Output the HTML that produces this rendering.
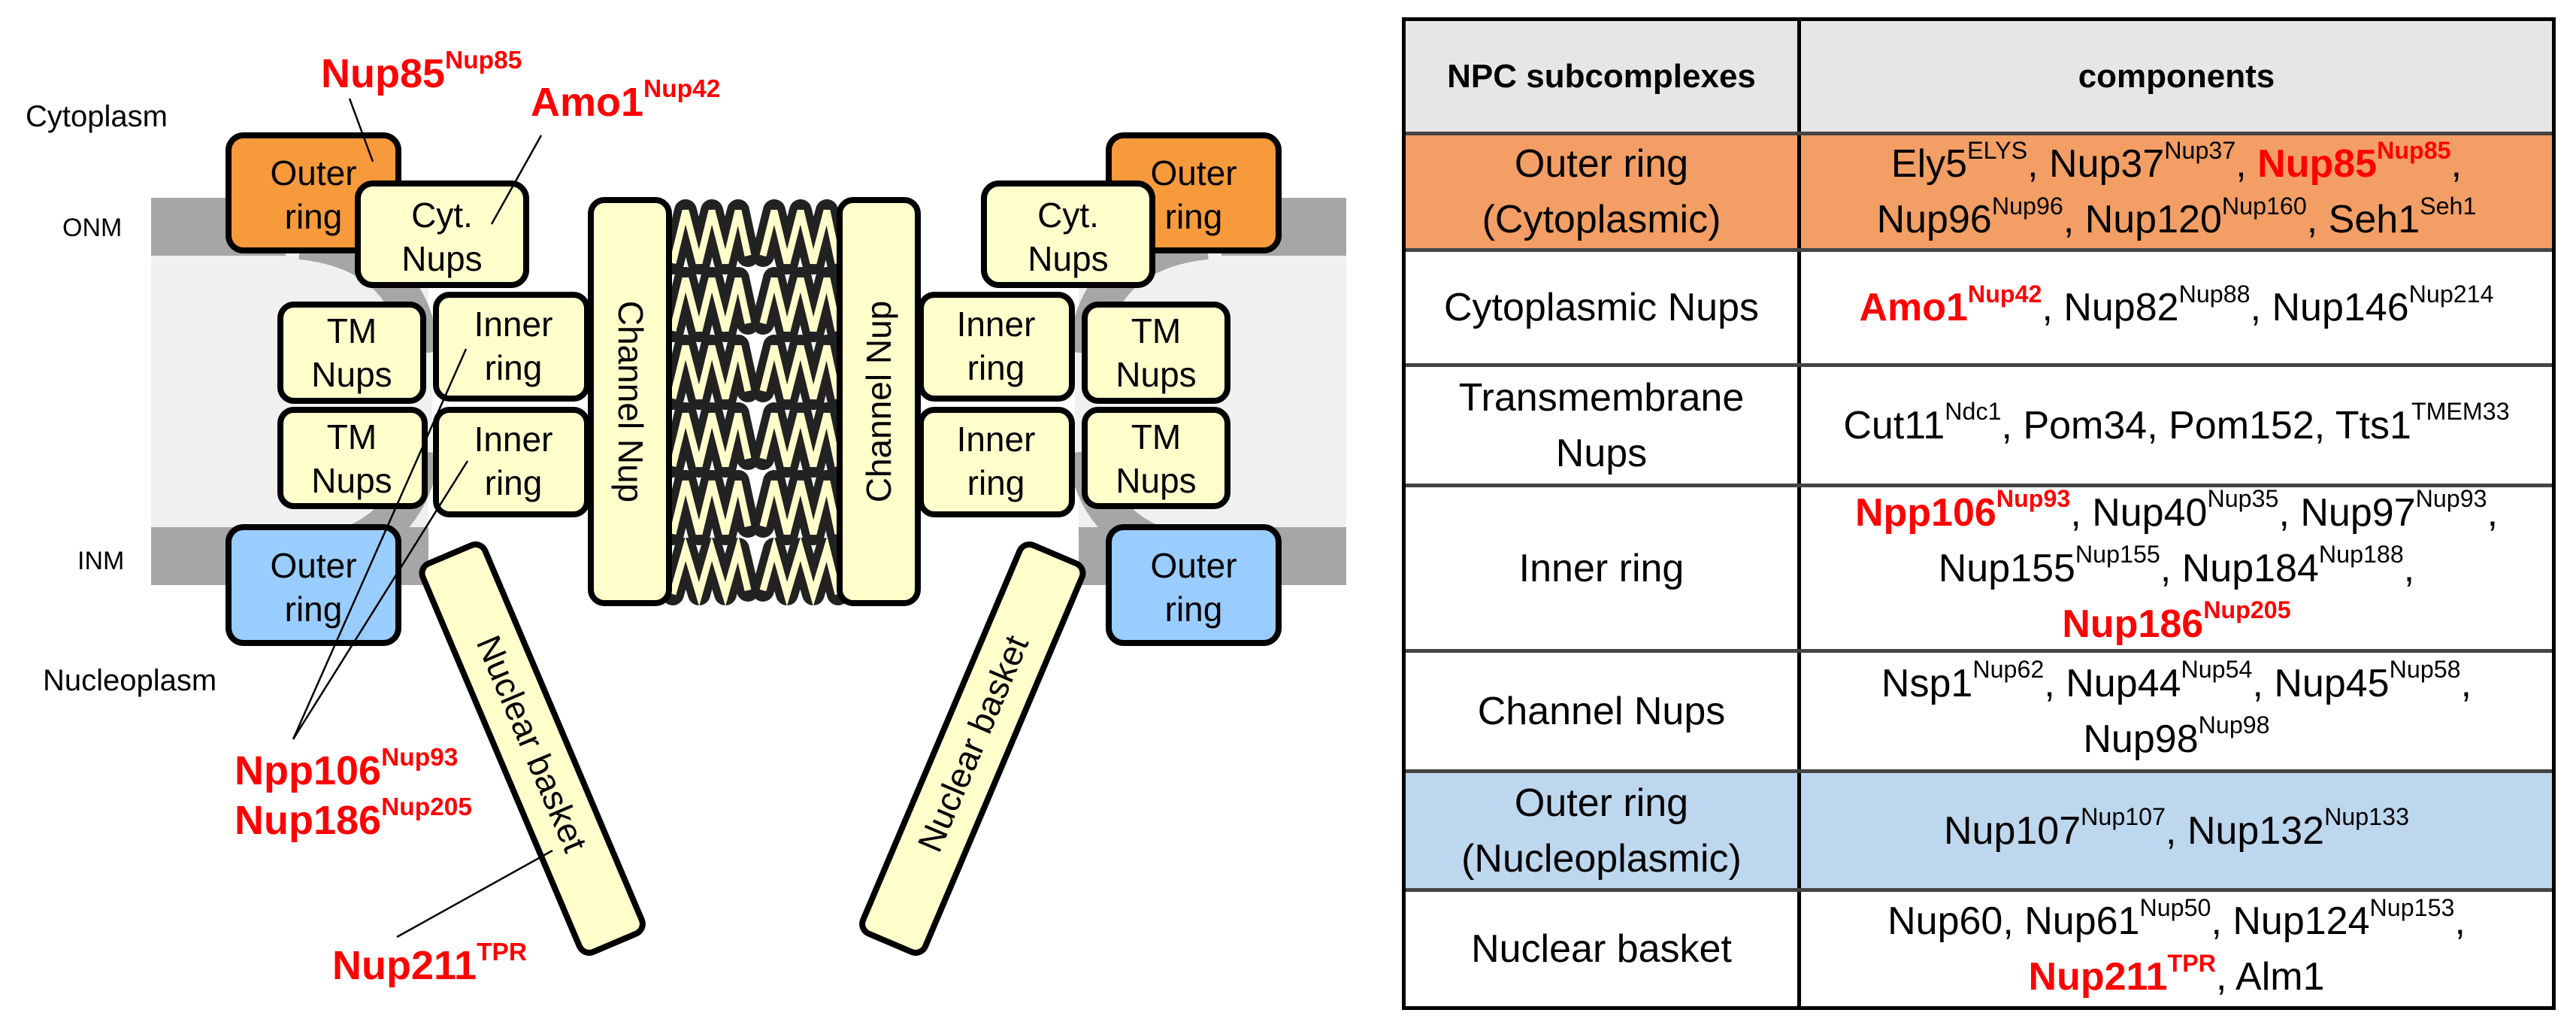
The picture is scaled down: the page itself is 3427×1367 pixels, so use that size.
<!DOCTYPE html>
<html><head><meta charset="utf-8"><style>
body{margin:0;width:3427px;height:1367px;background:#fff;position:relative;overflow:hidden;font-family:"Liberation Sans",Arial,sans-serif}
.t{position:absolute;left:1865px;top:23px;width:1535px;height:1320px;border:5px solid #000;box-sizing:border-box}
.row{position:absolute;left:0;width:1525px;border-bottom:5px solid #444;box-sizing:border-box}
.c1,.c2{position:absolute;top:0;height:100%;display:flex;align-items:center;justify-content:center;text-align:center;font-size:52px;line-height:74px;color:#000}
.c1{left:0;width:526px;border-right:5px solid #000;box-sizing:border-box}
.c2{left:526px;width:999px}
sup{font-size:0.62em;vertical-align:0;position:relative;top:-0.75em;line-height:0}
.r{color:#f00;font-weight:bold}
.lab{position:absolute;font-family:"Liberation Sans Narrow","Liberation Sans",sans-serif;color:#f00;font-weight:bold;font-size:54px;line-height:60px;white-space:nowrap}
</style></head><body>
<svg width="1860" height="1367" style="position:absolute;left:0;top:0" font-family="Liberation Sans, Arial, sans-serif">
<rect x="201" y="300" width="1590" height="440" fill="#f0f0f0"/>
<rect x="201" y="263" width="1590" height="77" fill="#a6a6a6"/>
<rect x="201" y="701" width="1590" height="77" fill="#a6a6a6"/>
<rect x="570" y="263" width="865" height="515" fill="#fff"/>
<path d="M380 300 Q560 300 575 470 L575 600 Q560 740 380 740 Z" fill="#f0f0f0"/>
<path d="M1625 300 Q1445 300 1430 470 L1430 600 Q1445 740 1625 740 Z" fill="#f0f0f0"/>
<path d="M400 320 Q545 335 560 470 M560 600 Q545 725 400 740" stroke="#a6a6a6" stroke-width="50" fill="none"/>
<path d="M1605 320 Q1460 335 1445 470 M1445 600 Q1460 725 1605 740" stroke="#a6a6a6" stroke-width="50" fill="none"/>
<g>
<g stroke="#222" stroke-width="30" fill="none" stroke-linejoin="round" stroke-linecap="round">
<path d="M895 350 L912 280 L930 350 L947 280 L965 350 L982 280 L995 340 M895 440 L912 370 L930 440 L947 370 L965 440 L982 370 L995 430 M895 530 L912 460 L930 530 L947 460 L965 530 L982 460 L995 520 M895 620 L912 550 L930 620 L947 550 L965 620 L982 550 L995 610 M895 710 L912 640 L930 710 L947 640 L965 710 L982 640 L995 700 M895 790 L912 730 L930 790 L947 730 L965 790 L982 730 L995 785"/>
<path d="M1015 340 L1030 280 L1047 350 L1065 280 L1082 350 L1100 280 L1115 350 M1015 430 L1030 370 L1047 440 L1065 370 L1082 440 L1100 370 L1115 440 M1015 520 L1030 460 L1047 530 L1065 460 L1082 530 L1100 460 L1115 530 M1015 610 L1030 550 L1047 620 L1065 550 L1082 620 L1100 550 L1115 620 M1015 700 L1030 640 L1047 710 L1065 640 L1082 710 L1100 640 L1115 710 M1015 785 L1030 730 L1047 790 L1065 730 L1082 790 L1100 730 L1115 790"/>
</g>
<g stroke="#ffffcc" stroke-width="9" fill="none" stroke-linejoin="miter">
<path d="M895 350 L912 280 L930 350 L947 280 L965 350 L982 280 L995 340 M895 440 L912 370 L930 440 L947 370 L965 440 L982 370 L995 430 M895 530 L912 460 L930 530 L947 460 L965 530 L982 460 L995 520 M895 620 L912 550 L930 620 L947 550 L965 620 L982 550 L995 610 M895 710 L912 640 L930 710 L947 640 L965 710 L982 640 L995 700 M895 790 L912 730 L930 790 L947 730 L965 790 L982 730 L995 785"/>
<path d="M1015 340 L1030 280 L1047 350 L1065 280 L1082 350 L1100 280 L1115 350 M1015 430 L1030 370 L1047 440 L1065 370 L1082 440 L1100 370 L1115 440 M1015 520 L1030 460 L1047 530 L1065 460 L1082 530 L1100 460 L1115 530 M1015 610 L1030 550 L1047 620 L1065 550 L1082 620 L1100 550 L1115 620 M1015 700 L1030 640 L1047 710 L1065 640 L1082 710 L1100 640 L1115 710 M1015 785 L1030 730 L1047 790 L1065 730 L1082 790 L1100 730 L1115 790"/>
</g></g>
<g stroke="#000" stroke-width="8">
<rect x="304" y="180" width="226" height="153" rx="20" fill="#f79a3c"/>
<rect x="1475" y="180" width="226" height="153" rx="20" fill="#f79a3c"/>
<rect x="476" y="244" width="224" height="135" rx="20" fill="#ffffcc"/>
<rect x="1309" y="244" width="224" height="135" rx="20" fill="#ffffcc"/>
<rect x="373" y="405" width="190" height="128" rx="18" fill="#ffffcc"/>
<rect x="580" y="392" width="201" height="138" rx="18" fill="#ffffcc"/>
<rect x="373" y="545" width="192" height="128" rx="18" fill="#ffffcc"/>
<rect x="580" y="545" width="201" height="139" rx="18" fill="#ffffcc"/>
<rect x="1225" y="392" width="201" height="138" rx="18" fill="#ffffcc"/>
<rect x="1443" y="405" width="190" height="128" rx="18" fill="#ffffcc"/>
<rect x="1225" y="545" width="201" height="139" rx="18" fill="#ffffcc"/>
<rect x="1443" y="545" width="190" height="128" rx="18" fill="#ffffcc"/>
<rect x="304" y="701" width="226" height="154" rx="20" fill="#99ccff"/>
<rect x="1475" y="701" width="226" height="154" rx="20" fill="#99ccff"/>
<rect x="786" y="266" width="104" height="536" rx="18" fill="#ffffcc"/>
<rect x="1117" y="266" width="104" height="536" rx="18" fill="#ffffcc"/>
<rect x="663" y="715" width="90" height="561" rx="14" fill="#ffffcc" transform="rotate(-23 708 995)"/>
<rect x="1249" y="715" width="90" height="561" rx="14" fill="#ffffcc" transform="rotate(23 1294 995)"/>
</g>
<g font-size="46" text-anchor="middle" fill="#000">
<text x="417" y="246">Outer</text><text x="417" y="304">ring</text>
<text x="1588" y="246">Outer</text><text x="1588" y="304">ring</text>
<text x="588" y="302">Cyt.</text><text x="588" y="360">Nups</text>
<text x="468" y="456">TM</text><text x="468" y="514">Nups</text>
<text x="1421" y="302">Cyt.</text><text x="1421" y="360">Nups</text>
<text x="468" y="597">TM</text><text x="468" y="655">Nups</text>
<text x="1538" y="456">TM</text><text x="1538" y="514">Nups</text>
<text x="1538" y="597">TM</text><text x="1538" y="655">Nups</text>
<text x="683" y="447">Inner</text><text x="683" y="505">ring</text>
<text x="683" y="600">Inner</text><text x="683" y="658">ring</text>
<text x="1325" y="447">Inner</text><text x="1325" y="505">ring</text>
<text x="1325" y="600">Inner</text><text x="1325" y="658">ring</text>
<text x="417" y="768">Outer</text><text x="417" y="826">ring</text>
<text x="1588" y="768">Outer</text><text x="1588" y="826">ring</text>
<text transform="translate(823 534) rotate(90)">Channel Nup</text>
<text transform="translate(1185 534) rotate(-90)">Channel Nup</text>
<text transform="translate(693 995) rotate(67)">Nuclear basket</text>
<text transform="translate(1309 995) rotate(-67)">Nuclear basket</text>
</g>
<g font-size="40" fill="#000">
<text x="34" y="168">Cytoplasm</text>
<text x="83" y="314" font-size="34">ONM</text>
<text x="103" y="757" font-size="34">INM</text>
<text x="57" y="918">Nucleoplasm</text>
</g>
<g stroke="#000" stroke-width="2.5">
<line x1="465" y1="131" x2="496" y2="215"/>
<line x1="720" y1="180" x2="654" y2="298"/>
<line x1="390" y1="983" x2="620" y2="464"/>
<line x1="390" y1="983" x2="622" y2="613"/>
<line x1="528" y1="1246" x2="735" y2="1131"/>
</g>
</svg>
<div class="lab" style="left:427px;top:68px">Nup85<sup>Nup85</sup></div>
<div class="lab" style="left:706px;top:106px">Amo1<sup>Nup42</sup></div>
<div class="lab" style="left:312px;top:995px">Npp106<sup>Nup93</sup></div>
<div class="lab" style="left:312px;top:1061px">Nup186<sup>Nup205</sup></div>
<div class="lab" style="left:442px;top:1254px">Nup211<sup>TPR</sup></div>

<div class="t">
<div class="row" style="top:0;height:152px;background:#e6e6e6"><div class="c1" style="font-weight:bold;font-size:44px">NPC subcomplexes</div><div class="c2" style="font-weight:bold;font-size:44px">components</div></div>
<div class="row" style="top:152px;height:155px;background:#f29e64"><div class="c1"><span>Outer ring<br>(Cytoplasmic)</span></div><div class="c2"><span>Ely5<sup>ELYS</sup>, Nup37<sup>Nup37</sup>, <span class="r">Nup85<sup>Nup85</sup></span>,<br>Nup96<sup>Nup96</sup>, Nup120<sup>Nup160</sup>, Seh1<sup>Seh1</sup></span></div></div>
<div class="row" style="top:307px;height:153px"><div class="c1">Cytoplasmic Nups</div><div class="c2"><span><span class="r">Amo1<sup>Nup42</sup></span>, Nup82<sup>Nup88</sup>, Nup146<sup>Nup214</sup></span></div></div>
<div class="row" style="top:460px;height:160px"><div class="c1"><span>Transmembrane<br>Nups</span></div><div class="c2"><span>Cut11<sup>Ndc1</sup>, Pom34, Pom152, Tts1<sup>TMEM33</sup></span></div></div>
<div class="row" style="top:620px;height:220px"><div class="c1">Inner ring</div><div class="c2"><span><span class="r">Npp106<sup>Nup93</sup></span>, Nup40<sup>Nup35</sup>, Nup97<sup>Nup93</sup>,<br>Nup155<sup>Nup155</sup>, Nup184<sup>Nup188</sup>,<br><span class="r">Nup186<sup>Nup205</sup></span></span></div></div>
<div class="row" style="top:840px;height:160px"><div class="c1">Channel Nups</div><div class="c2"><span>Nsp1<sup>Nup62</sup>, Nup44<sup>Nup54</sup>, Nup45<sup>Nup58</sup>,<br>Nup98<sup>Nup98</sup></span></div></div>
<div class="row" style="top:1000px;height:158px;background:#bdd7ee"><div class="c1"><span>Outer ring<br>(Nucleoplasmic)</span></div><div class="c2"><span>Nup107<sup>Nup107</sup>, Nup132<sup>Nup133</sup></span></div></div>
<div class="row" style="top:1158px;height:152px;border-bottom:none"><div class="c1">Nuclear basket</div><div class="c2"><span>Nup60, Nup61<sup>Nup50</sup>, Nup124<sup>Nup153</sup>,<br><span class="r">Nup211<sup>TPR</sup></span>, Alm1</span></div></div>
</div>
</body></html>
